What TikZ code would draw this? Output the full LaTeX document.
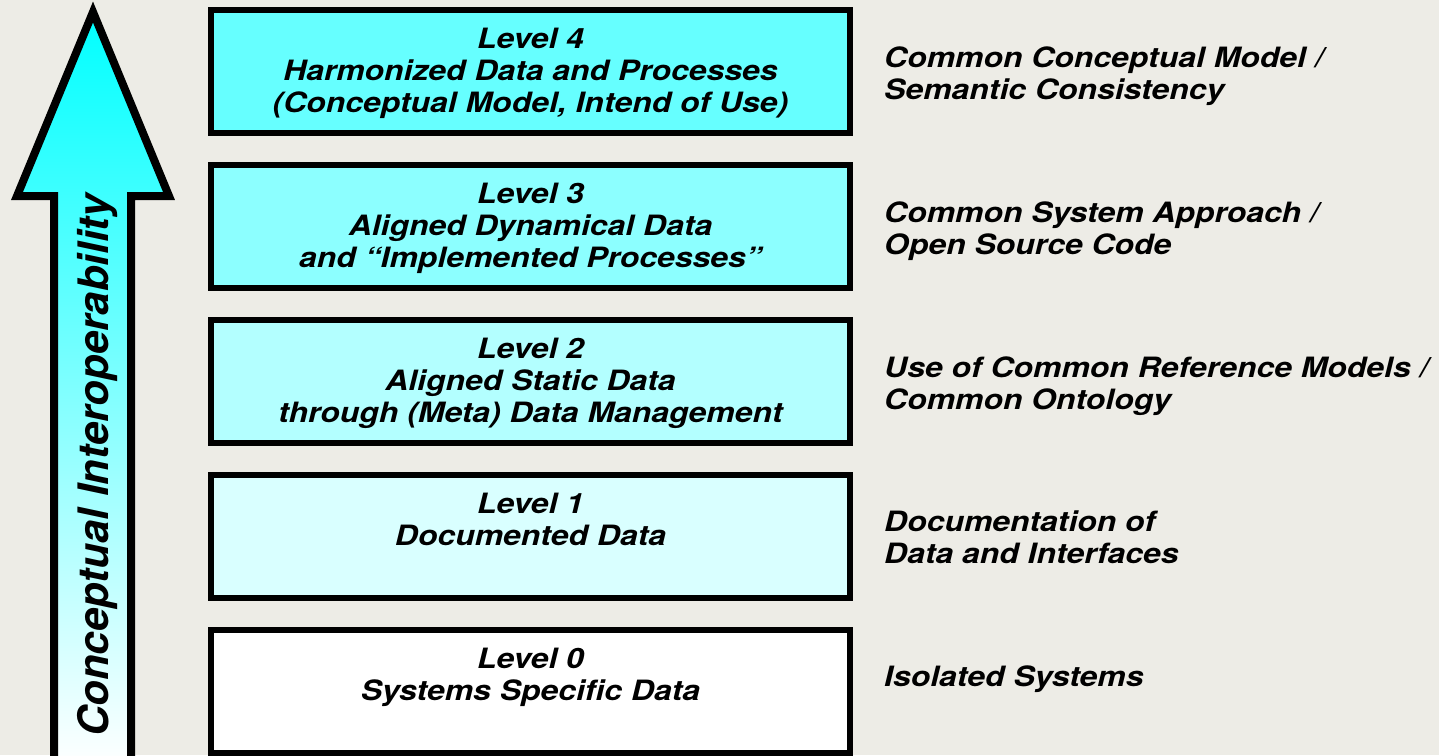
\documentclass[tikz,border=0pt]{standalone}
\usepackage{fontspec}
\newfontfamily\boxfont{TeX Gyre Heros}[FakeStretch=1.14]
\newfontfamily\arrowfont{TeX Gyre Heros}
\definecolor{bg}{RGB}{237,236,230}
\definecolor{lvfour}{RGB}{102,255,255}
\definecolor{lvthree}{RGB}{140,255,255}
\definecolor{lvtwo}{RGB}{179,255,255}
\definecolor{lvone}{RGB}{217,255,255}
\definecolor{lvzero}{RGB}{255,255,255}
\definecolor{arrtop}{RGB}{0,255,255}
\definecolor{arrmid}{RGB}{175,255,255}
\newcommand\firstline{\rule{0pt}{22pt}}
\tikzset{
  levelbox/.style={rectangle, draw=black, line width=6pt, minimum width=639pt,
    minimum height=123pt, inner sep=0pt},
  leveltext/.style={font=\boxfont\bfseries\itshape\fontsize{28pt}{32pt}\selectfont,
    align=center, anchor=north, inner sep=0pt, text=black},
  notetext/.style={font=\boxfont\bfseries\itshape\fontsize{28pt}{32pt}\selectfont,
    align=left, anchor=north west, inner sep=0pt, text=black},
  arrowtext/.style={font=\arrowfont\bfseries\itshape\fontsize{42pt}{48pt}\selectfont,
    rotate=90, anchor=base west, inner sep=0pt, text=black},
  bigarrow/.style={draw=black, line width=8pt, top color=arrtop, middle color=arrmid,
    bottom color=white}
}
\begin{document}
\begin{tikzpicture}[x=1pt,y=-1pt]
\useasboundingbox (0,0) rectangle (1439,755);
\fill[bg] (0,0) rectangle (1439,755);
\begin{scope}
\clip (0,0) rectangle (1439,755);
% big arrow
\path[bigarrow] (54,768) -- (54,196) -- (17,196) -- (93,12) -- (169,196)
  -- (131,196) -- (131,768) -- cycle;
% level boxes
\node[levelbox, fill=lvfour]  (b4) at (530.5,71.5)  {};
\node[levelbox, fill=lvthree] (b3) at (530.5,226.5) {};
\node[levelbox, fill=lvtwo]   (b2) at (530.5,381.5) {};
\node[levelbox, fill=lvone]   (b1) at (530.5,536.5) {};
\node[levelbox, fill=lvzero]  (b0) at (530.5,691.5) {};
\end{scope}
\node[arrowtext] (arr) at (108,737) {Conceptual Interoperability};
% box texts
\node[leveltext] (t4) at (530.5,26)  {\firstline Level 4\\Harmonized Data and Processes\\(Conceptual Model, Intend of Use)};
\node[leveltext] (t3) at (530.5,181) {\firstline Level 3\\Aligned Dynamical Data\\and “Implemented Processes”};
\node[leveltext] (t2) at (530.5,336) {\firstline Level 2\\Aligned Static Data\\through (Meta) Data Management};
\node[leveltext] (t1) at (530.5,491) {\firstline Level 1\\Documented Data};
\node[leveltext] (t0) at (530.5,646) {\firstline Level 0\\Systems Specific Data};
% notes
\node[notetext] (n4) at (884,45)  {\firstline Common Conceptual Model /\\Semantic Consistency};
\node[notetext] (n3) at (884,200) {\firstline Common System Approach /\\Open Source Code};
\node[notetext] (n2) at (884,355) {\firstline Use of Common Reference Models /\\Common Ontology};
\node[notetext] (n1) at (884,509) {\firstline Documentation of\\Data and Interfaces};
\node[notetext] (n0) at (884,664) {\firstline Isolated Systems};
\end{tikzpicture}
\end{document}
